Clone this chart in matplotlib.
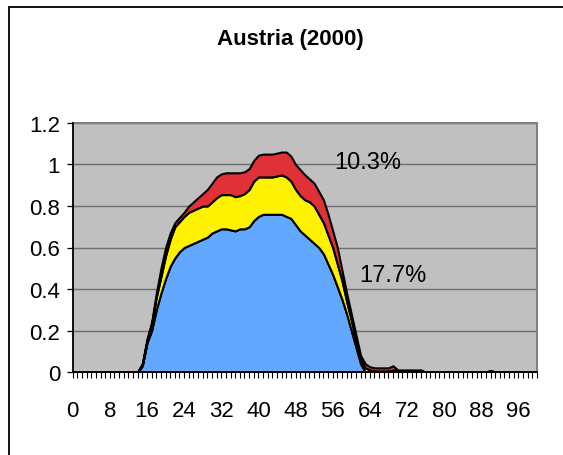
import matplotlib
matplotlib.use("Agg")
import matplotlib.pyplot as plt
from matplotlib.patches import Rectangle
from matplotlib.ticker import MultipleLocator, FuncFormatter

plt.rcParams["font.family"] = ["Liberation Sans Narrow", "Liberation Sans", "DejaVu Sans"]

# age 0..100, three stacked components
ages = list(range(101))

blue = [0.0] * 15 + [
    0.03, 0.14, 0.20, 0.30, 0.38, 0.45, 0.51, 0.55, 0.58, 0.60,   # 15-24
    0.61, 0.62, 0.63, 0.64, 0.65, 0.67, 0.68, 0.69, 0.69, 0.685,  # 25-34
    0.68, 0.69, 0.69, 0.70, 0.73, 0.75, 0.76, 0.76, 0.76, 0.76,   # 35-44
    0.76, 0.75, 0.74, 0.71, 0.68, 0.66, 0.64, 0.62, 0.60, 0.57,   # 45-54
    0.52, 0.47, 0.41, 0.35, 0.28, 0.20, 0.12, 0.04,               # 55-62
] + [0.0] * 38

yellow = [0.0] * 15 + [
    0.01, 0.01, 0.03, 0.06, 0.08, 0.11, 0.13, 0.15, 0.145, 0.15,  # 15-24
    0.16, 0.16, 0.16, 0.16, 0.15, 0.15, 0.16, 0.165, 0.165, 0.17, # 25-34
    0.165, 0.16, 0.17, 0.18, 0.19, 0.19, 0.18, 0.18, 0.18, 0.185, # 35-44
    0.19, 0.19, 0.18, 0.17, 0.17, 0.17, 0.18, 0.18, 0.16, 0.15,   # 45-54
    0.14, 0.13, 0.11, 0.09, 0.06, 0.05, 0.03, 0.02, 0.02, 0.01,   # 55-64
    0.005, 0.005, 0.005, 0.005, 0.01,                             # 65-69
    0.005, 0.005, 0.005, 0.005, 0.005, 0.005,                     # 70-75
    0, 0, 0, 0, 0, 0, 0, 0, 0, 0, 0, 0, 0, 0,                     # 76-89
    0.005,                                                        # 90
] + [0.0] * 10

red = [0.0] * 15 + [
    0.0, 0.01, 0.01, 0.02, 0.04, 0.04, 0.03, 0.02, 0.02, 0.02,    # 15-24
    0.03, 0.04, 0.05, 0.06, 0.08, 0.09, 0.10, 0.10, 0.105, 0.105, # 25-34
    0.115, 0.11, 0.105, 0.10, 0.10, 0.105, 0.11, 0.11, 0.11, 0.11,# 35-44
    0.11, 0.12, 0.12, 0.12, 0.125, 0.12, 0.11, 0.11, 0.11, 0.11,  # 45-54
    0.10, 0.08, 0.08, 0.05, 0.04, 0.03, 0.03, 0.02, 0.02, 0.015,  # 55-64
    0.015, 0.015, 0.015, 0.015, 0.02,                             # 65-69
    0.005, 0.005, 0.005, 0.005, 0.005, 0.005,                     # 70-75
    0, 0, 0, 0, 0, 0, 0, 0, 0, 0, 0, 0, 0, 0,                     # 76-89
    0.003,                                                        # 90
] + [0.0] * 10

share_labels = ["10.3%", "17.7%"]
share_pos = [(56.3, 0.985), (61.7, 0.437)]

fig = plt.figure(figsize=(5.63, 4.56), dpi=100)
ax = fig.add_axes([72.7 / 563, 1 - 373 / 456, (537 - 72.7) / 563, (373 - 124) / 456])
ax.set_facecolor("#C0C0C0")

# stacked areas with black outlines
lvl1 = blue
lvl2 = [b + y for b, y in zip(blue, yellow)]
lvl3 = [a + r for a, r in zip(lvl2, red)]
ax.fill_between(ages, 0, lvl1, facecolor="#62A8FF", edgecolor="black", lw=1.5, zorder=2)
ax.fill_between(ages, lvl1, lvl2, facecolor="#FFF200", edgecolor="black", lw=1.5, zorder=2)
ax.fill_between(ages, lvl2, lvl3, facecolor="#E03038", edgecolor="black", lw=1.5, zorder=2)

for txt, (px, py) in zip(share_labels, share_pos):
    ax.text(px, py, txt, fontsize=17, ha="left", va="baseline", zorder=3)

ax.set_xlim(0, 100)
ax.set_ylim(0, 1.2)

ax.yaxis.set_major_locator(MultipleLocator(0.2))
ax.yaxis.set_major_formatter(FuncFormatter(lambda v, p: f"{v:g}"))
ax.xaxis.set_major_locator(MultipleLocator(8))
ax.xaxis.set_minor_locator(MultipleLocator(1))

ax.grid(axis="y", color="#6E6E6E", lw=1.0, zorder=1)
ax.set_axisbelow(True)

ax.tick_params(axis="y", direction="out", length=4, width=0.9, pad=5, labelsize=16)
ax.tick_params(axis="x", which="major", direction="out", length=4.5, width=0.8,
               pad=16, labelsize=16)
ax.tick_params(axis="x", which="minor", direction="out", length=4.5, width=0.8)

for s in ("left", "bottom"):
    ax.spines[s].set_color("black")
    ax.spines[s].set_linewidth(1.3)
    ax.spines[s].set_zorder(4)
for s in ("top", "right"):
    ax.spines[s].set_color("#808080")
    ax.spines[s].set_linewidth(1.5)

fig.text(290 / 563, 1 - 40 / 456, "Austria (2000)", fontsize=16, fontweight="bold",
         ha="center", va="center")

# chart frame (only top and left edges fall inside the image)
fig.add_artist(Rectangle((9.3 / 563, -0.5), 2, 1.5 - 7.5 / 456, transform=fig.transFigure,
                         fill=False, edgecolor="black", lw=1.3))

fig.savefig("out.png", dpi=100)
